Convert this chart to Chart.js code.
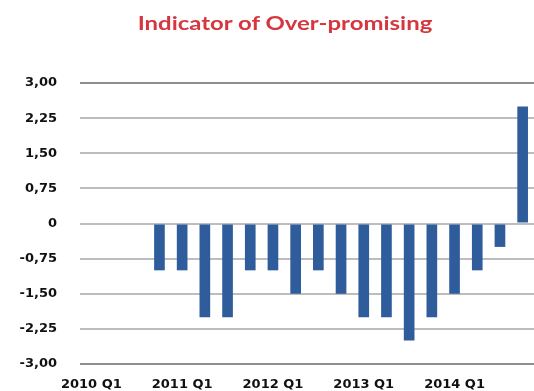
<!DOCTYPE html>
<html>
<head>
<meta charset="utf-8">
<script src="https://cdn.jsdelivr.net/npm/chart.js@4.4.0/dist/chart.umd.min.js"></script>
<style>
  body { margin: 0; background: #fff; }
  #wrap { position: relative; width: 534px; height: 391px; }
  #myChart { display: block; }
  #titulo {
    position: absolute; left: 0; top: 12px; width: 570px; text-align: center;
    font: bold 18px Lato, "Open Sans", sans-serif; color: #d6373f;
    transform: scaleX(1.33); transform-origin: 285px 0;
  }
</style>
</head>
<body>
<div id="wrap">
  <div id="titulo">Indicator of Over-promising</div>
  <canvas id="myChart" width="534" height="391"></canvas>
</div>
<script>
// trimestres 2010 Q1 .. 2014 Q4
const trimestres = [
  "2010 Q1", "2010 Q2", "2010 Q3", "2010 Q4",
  "2011 Q1", "2011 Q2", "2011 Q3", "2011 Q4",
  "2012 Q1", "2012 Q2", "2012 Q3", "2012 Q4",
  "2013 Q1", "2013 Q2", "2013 Q3", "2013 Q4",
  "2014 Q1", "2014 Q2", "2014 Q3", "2014 Q4"
];
const indicador = [null, null, null, -1, -1, -2, -2, -1, -1, -1.5, -1, -1.5, -2, -2, -2.5, -2, -1.5, -1, -0.5, 2.5];
const ticksY = [-3, -2.25, -1.5, -0.75, 0, 0.75, 1.5, 2.25, 3];

const fuenteEje = { family: "'DejaVu Sans', Arial, sans-serif", size: 13, weight: "bold" };

let ctx = document.getElementById("myChart").getContext("2d");
let myChart = new Chart(ctx, {
  type: "bar",
  data: {
    labels: trimestres,
    datasets: [{
      label: "Indicator",
      data: indicador,
      backgroundColor: "#2f5d9c",
      categoryPercentage: 1,
      barPercentage: 0.47
    }]
  },
  options: {
    responsive: false,
    animation: false,
    layout: { padding: { top: 83, right: 0, left: 0, bottom: 0 } },
    plugins: { legend: { display: false }, tooltip: { enabled: false } },
    scales: {
      x: {
        grid: { display: false, drawTicks: false },
        border: { display: false },
        afterFit: (eje) => { eje.height = 27; eje.paddingLeft = 0; eje.paddingRight = 0; },
        ticks: {
          autoSkip: false, maxRotation: 0, padding: 13,
          color: "#111", font: fuenteEje,
          callback: (v, i) => (i % 4 === 0 ? trimestres[i] : "")
        }
      },
      y: {
        min: -3, max: 3,
        afterBuildTicks: (eje) => { eje.ticks = ticksY.map((v) => ({ value: v })); },
        afterFit: (eje) => { eje.width = 80; eje.paddingTop = 0; eje.paddingBottom = 0; },
        border: { display: false },
        grid: {
          drawTicks: false, lineWidth: 2,
          color: (c) => (c.tick && (c.tick.value === -3 || c.tick.value === 3) ? "#8f8f8f" : "#bdbdbd")
        },
        ticks: {
          padding: 23, color: "#111", font: fuenteEje,
          callback: (v) => (v === 0 ? "0" : v.toFixed(2).replace(".", ","))
        }
      }
    }
  }
});
</script>
</body>
</html>
